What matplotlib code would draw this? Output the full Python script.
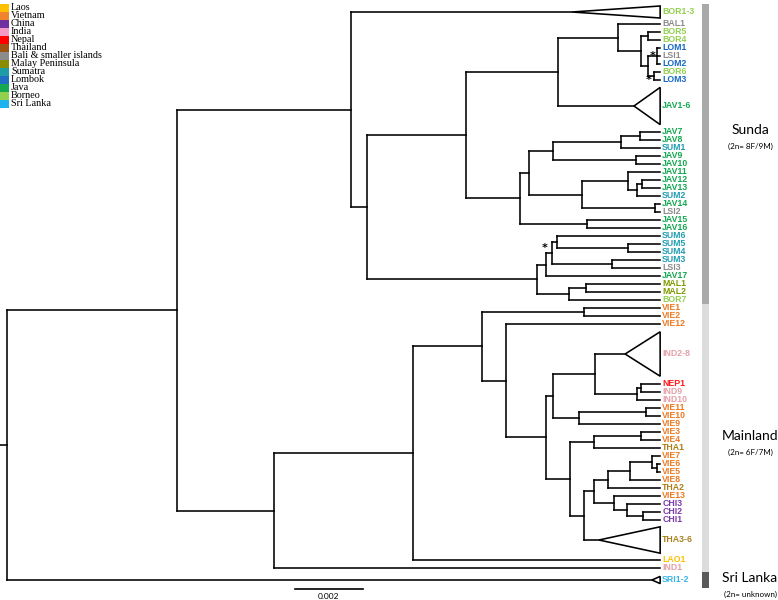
import matplotlib
matplotlib.use("Agg")
import matplotlib.pyplot as plt
from matplotlib.patches import Polygon, Rectangle

# ---------------- data ----------------
regions = ["Laos", "Vietnam", "China", "India", "Nepal", "Thailand",
           "Bali & smaller islands", "Malay Peninsula", "Sumatra", "Lombok",
           "Java", "Borneo", "Sri Lanka"]
region_colors = ["#FFC000", "#F0842C", "#7030A0", "#F49AC6", "#FF0000", "#9C5414",
                 "#8C8C8C", "#8A8C00", "#1E9CA6", "#1F6EC2", "#14A850", "#92D050", "#1EB2EE"]
label_colors = ["#FFC000", "#EE7A22", "#7A3AAA", "#E4A0A8", "#FF1A1A", "#A8801C",
                "#8C8C8C", "#7F9C00", "#1E9CB0", "#1468C4", "#14A850", "#92D050", "#3AB6E6"]

# tips (top to bottom), their region, parent node, and number of row slots
tip_names = ["BOR1-3", "BAL1", "BOR5", "BOR4", "LOM1", "LSI1", "LOM2", "BOR6", "LOM3",
             "JAV1-6", "JAV7", "JAV8", "SUM1", "JAV9", "JAV10", "JAV11", "JAV12", "JAV13",
             "SUM2", "JAV14", "LSI2", "JAV15", "JAV16", "SUM6", "SUM5", "SUM4", "SUM3",
             "LSI3", "JAV17", "MAL1", "MAL2", "BOR7",
             "VIE1", "VIE2", "VIE12", "IND2-8", "NEP1", "IND9", "IND10", "VIE11", "VIE10",
             "VIE9", "VIE3", "VIE4", "THA1", "VIE7", "VIE6", "VIE5", "VIE8", "THA2", "VIE13",
             "CHI3", "CHI2", "CHI1", "THA3-6", "LAO1", "IND1", "SRI1-2"]
tip_region = ["Borneo", "Bali & smaller islands", "Borneo", "Borneo", "Lombok",
              "Bali & smaller islands", "Lombok", "Borneo", "Lombok",
              "Java", "Java", "Java", "Sumatra", "Java", "Java", "Java", "Java", "Java",
              "Sumatra", "Java", "Bali & smaller islands", "Java", "Java", "Sumatra", "Sumatra",
              "Sumatra", "Sumatra", "Bali & smaller islands", "Java", "Malay Peninsula",
              "Malay Peninsula", "Borneo",
              "Vietnam", "Vietnam", "Vietnam", "India", "Nepal", "India", "India", "Vietnam",
              "Vietnam", "Vietnam", "Vietnam", "Vietnam", "Thailand", "Vietnam", "Vietnam",
              "Vietnam", "Vietnam", "Thailand", "Vietnam", "China", "China", "China",
              "Thailand", "Laos", "India", "Sri Lanka"]
tip_parent = ["S0", "S6", "S8", "S8", "S10", "S10", "S10", "S10b", "S10b",
              "S4", "S17", "S17", "S15", "S16", "S16", "S18", "S21", "S21",
              "S20", "S19", "S19", "S12", "S12", "S25", "S27", "S27", "S26",
              "S26", "S22", "S28", "S28", "S23",
              "M3", "M3", "M4", "M8", "M11", "M11", "M10", "M12", "M12",
              "M9", "M15", "M15", "M13", "M20", "M21", "M21", "M19", "M17", "M18",
              "M22", "M23", "M23", "M14", "M1", "N2", "root"]
tip_slots = [2, 1, 1, 1, 1, 1, 1, 1, 1,
             5.5, 1, 1, 1, 1, 1, 1, 1, 1, 1, 1, 1, 1, 1, 1, 1, 1, 1, 1, 1, 1, 1, 1,
             1, 1, 1, 6.5, 1, 1, 1, 1, 1, 1, 1, 1, 1, 1, 1, 1, 1, 1, 1, 1, 1, 1,
             4, 1, 1, 2]
# collapsed clades: depth of their crown node (None = single sequence)
tip_crown = [0.01662, None, None, None, None, None, None, None, None,
             0.01844] + [None] * 25 + [0.01818] + [None] * 18 + [0.01741, None, None, 0.01897]
tree_height = 0.01921

# internal nodes: name, parent, depth from root (substitutions/site)
node_names = ["root", "N1", "S0", "S1", "S2", "S4", "S6", "S7", "S8", "S9", "S10", "S10b",
              "S5", "S11", "S13", "S15", "S17", "S16", "S14", "S18", "S20", "S21", "S19",
              "S12", "S3", "S22", "S24", "S25", "S27", "S26", "S23", "S28",
              "N2", "M1", "M2", "M3", "M4", "M5", "M6", "M8", "M10", "M11", "M9", "M12",
              "M7", "M13", "M15", "M14", "M16", "M17", "M19", "M20", "M21", "M18", "M22", "M23"]
node_parent = [None, "root", "N1", "S0", "S1", "S2", "S4", "S6", "S7", "S7", "S9", "S9",
               "S2", "S5", "S11", "S13", "S15", "S13", "S11", "S14", "S18", "S20", "S14",
               "S5", "S1", "S3", "S22", "S24", "S25", "S24", "S3", "S23",
               "N1", "N2", "M1", "M2", "M2", "M4", "M5", "M6", "M8", "M10", "M6", "M9",
               "M5", "M7", "M13", "M7", "M14", "M16", "M17", "M19", "M20", "M16", "M18", "M22"]
node_depth = [0.0, 0.00500, 0.01012, 0.01059, 0.01350, 0.01621, 0.01797, 0.01865, 0.01885,
              0.01885, 0.01912, 0.01903,
              0.01509, 0.01535, 0.01606, 0.01806, 0.01862, 0.01850, 0.01691, 0.01826,
              0.01853, 0.01868, 0.01906,
              0.01706, 0.01559, 0.01585, 0.01603, 0.01618, 0.01826, 0.01779, 0.01653, 0.01703,
              0.00785, 0.01194, 0.01397, 0.01697, 0.01468, 0.01585, 0.01606, 0.01729,
              0.01853, 0.01865, 0.01682, 0.01879,
              0.01656, 0.01726, 0.01865, 0.01697, 0.01726, 0.01768, 0.01832, 0.01897,
              0.01912, 0.01785, 0.01824, 0.01871]

support_nodes = ["S10", "S10b", "S25"]   # nodes marked with *
scale_len = 0.002

groups = ["Sunda", "Mainland", "Sri Lanka"]
group_notes = ["(2n= 8F/9M)", "(2n= 6F/7M)", "(2n= unknown)"]
group_first = ["BOR1-3", "VIE1", "SRI1-2"]
group_last = ["BOR7", "IND1", "SRI1-2"]
group_colors = ["#A9A9A9", "#DCDCDC", "#595959"]

# ---------------- layout ----------------
W, H = 778, 600
PX_PER_UNIT = 34000.0      # pixels per substitution unit
X0 = 7                     # root pixel
ROW = 8.0                  # pixels per row slot
Y0 = 12                    # first row pixel
group_label_shift = [-2.8, 0.0, 0.0]   # rows
star_offsets = [(-4, -2.5), (-5, 2.0), (-12, 4.0)]  # pixels from node

fig = plt.figure(figsize=(W / 100, H / 100), dpi=100)
ax = fig.add_axes([0, 0, 1, 1])
ax.set_xlim(-X0 / PX_PER_UNIT, (W - X0) / PX_PER_UNIT)
ax.set_ylim((H - Y0) / ROW, -Y0 / ROW)
ax.axis("off")

reg_col = dict(zip(regions, region_colors))
lab_col = dict(zip(regions, label_colors))

# y positions of tips
tip_y = {}
pos, prev = 0.0, None
for n, s in zip(tip_names, tip_slots):
    if prev is not None:
        pos += (prev + s) / 2
    tip_y[n] = pos
    prev = s

depth = dict(zip(node_names, node_depth))
parent = dict(zip(node_names, node_parent))
children = {n: [] for n in node_names}
for n in node_names:
    if parent[n] is not None:
        children[parent[n]].append(n)
for n, p in zip(tip_names, tip_parent):
    children[p].append(n)

ypos = dict(tip_y)


def node_y(n):
    if n in ypos:
        return ypos[n]
    ys = [node_y(c) for c in children[n]]
    ypos[n] = (min(ys) + max(ys)) / 2
    return ypos[n]


node_y("root")
LW = 1.15
for n in node_names:
    ys = [ypos[c] for c in children[n]]
    ax.plot([depth[n], depth[n]], [min(ys), max(ys)], color="black", lw=LW,
            solid_capstyle="projecting")
    for c in children[n]:
        if c in depth:
            xe = depth[c]
        else:
            i = tip_names.index(c)
            xe = tip_crown[i] if tip_crown[i] is not None else tree_height
        ax.plot([depth[n], xe], [ypos[c], ypos[c]], color="black", lw=LW,
                solid_capstyle="projecting")

# root stub
ax.plot([-X0 / PX_PER_UNIT, 0], [ypos["root"]] * 2, color="black", lw=LW)

# collapsed clades
for i, n in enumerate(tip_names):
    if tip_crown[i] is not None:
        half = (tip_slots[i] - 1) / 2 * 0.9 + 0.3
        if n == "SRI1-2":
            half = 0.45
        tri = Polygon([[tip_crown[i], ypos[n]], [tree_height, ypos[n] - half],
                       [tree_height, ypos[n] + half]], closed=True, fill=False,
                      edgecolor="black", lw=LW)
        ax.add_patch(tri)

# tip labels
for n, r in zip(tip_names, tip_region):
    ax.text(tree_height + 2 / PX_PER_UNIT, ypos[n], n, color=lab_col[r],
            fontsize=6.3, fontweight="bold", family="Liberation Sans",
            va="center", ha="left")

# support asterisks
for n, (dx, dy) in zip(support_nodes, star_offsets):
    ax.text(depth[n] + dx / PX_PER_UNIT, ypos[n] + dy / ROW + 0.25, "*", fontsize=8,
            fontweight="bold", ha="center", va="center", color="black")

# group bars and labels
for g, note, a, b, col, sh in zip(groups, group_notes, group_first, group_last,
                                  group_colors, group_label_shift):
    ia, ib = tip_names.index(a), tip_names.index(b)
    top = ypos[a] - tip_slots[ia] / 2
    bot = ypos[b] + tip_slots[ib] / 2
    if g == "Sri Lanka":
        top, bot = ypos[a] - 1, ypos[a] + 1
    ax.add_patch(Rectangle(((702 - X0) / PX_PER_UNIT, top), 7 / PX_PER_UNIT, bot - top,
                           facecolor=col, edgecolor="none"))
    yc = ((top + bot) / 2 if g != "Sri Lanka" else ypos[a]) + sh
    ax.text((750 - X0) / PX_PER_UNIT, yc - 0.2, g, fontsize=10, family="Lato",
            ha="center", va="center", color="black")
    ax.text((750 - X0) / PX_PER_UNIT, yc + 1.8, note, fontsize=5.8, family="Lato",
            ha="center", va="center", color="black")

# scale bar
sb_y = ypos["SRI1-2"] + 1.1
x_sb = (295 - X0) / PX_PER_UNIT
ax.plot([x_sb, x_sb + scale_len], [sb_y, sb_y], color="black", lw=1.2)
ax.text(x_sb + scale_len / 2, sb_y + 1.0, f"{scale_len:g}", fontsize=6,
        family="Lato", ha="center", va="center")

# legend (top-left)
leg = fig.add_axes([0, 0, 1, 1])
leg.set_xlim(0, W)
leg.set_ylim(H, 0)
leg.axis("off")
leg.patch.set_alpha(0)
for k, (r, c) in enumerate(zip(regions, region_colors)):
    yk = 8 + k * 8.0
    leg.add_patch(Rectangle((0, yk - 4), 9, 8, facecolor=c, edgecolor="none"))
    leg.text(11, yk, r, fontsize=7.3, family="Liberation Serif", va="center", ha="left")

fig.savefig("out.png", dpi=100)
